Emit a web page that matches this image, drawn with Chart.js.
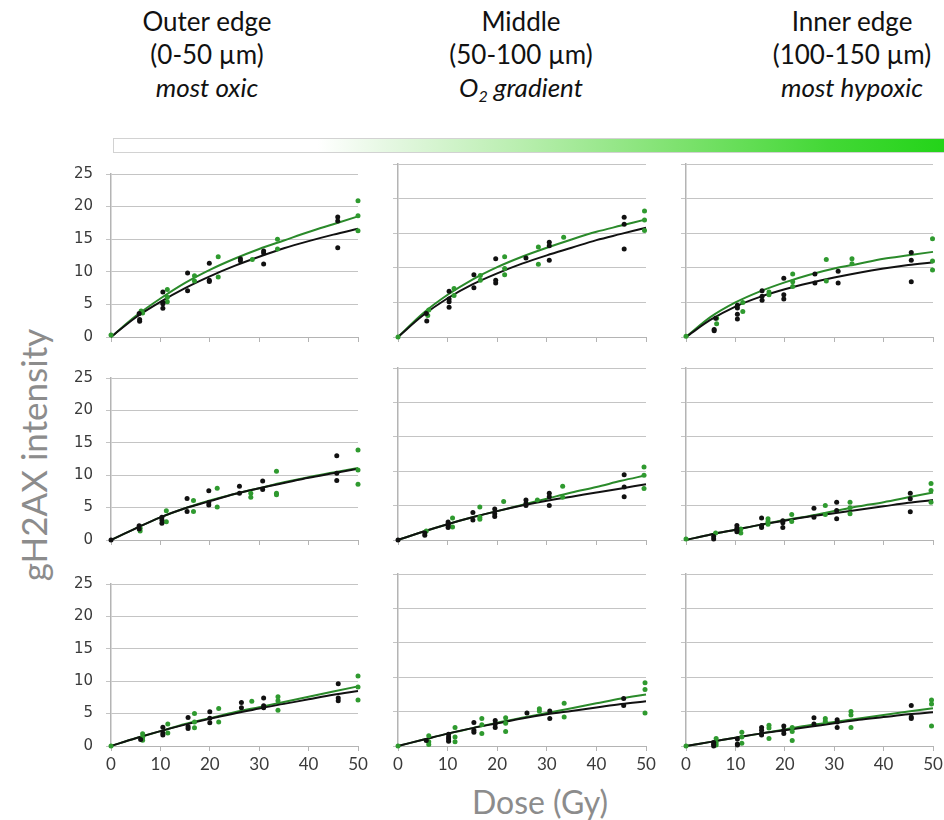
<!DOCTYPE html>
<html>
<head>
<meta charset="utf-8">
<script src="https://cdn.jsdelivr.net/npm/chart.js@4.4.1/dist/chart.umd.min.js"></script>
<style>
  html, body { margin: 0; padding: 0; background: #fff; }
  #stage { position: relative; width: 944px; height: 820px; overflow: hidden; font-family: Lato, "Open Sans", sans-serif; }
  .ttl { position: absolute; width: 280px; text-align: center; font-size: 26px; line-height: 33px; color: #111; white-space: nowrap; }
  .ttl i { font-style: italic; }
  .ttl sub { font-size: 16px; line-height: 0; vertical-align: -5px; }
  #bar { position: absolute; left: 113px; top: 138px; width: 850px; height: 13px; border: 1px solid #d2d2d2;
         background: linear-gradient(to right, #ffffff 0%, #ffffff 24%, #e6f8e3 32%, #b8eeae 48%, #7fe270 66%, #43d836 84%, #1ed314 100%); }
  .axt { position: absolute; color: #8c8c8c; white-space: nowrap; }
  canvas { position: absolute; }
</style>
</head>
<body>
<div id="stage">
  <div class="ttl" style="left:67px;top:5px">Outer edge<br>(0-50 µm)<br><i>most oxic</i></div>
  <div class="ttl" style="left:381px;top:5px">Middle<br>(50-100 µm)<br><i>O<sub>2</sub> gradient</i></div>
  <div class="ttl" style="left:712px;top:5px">Inner edge<br>(100-150 µm)<br><i>most hypoxic</i></div>
  <div id="bar"></div>
  <div class="axt" style="left:33px;top:455px;font-size:35px;transform:translate(-50%,-50%) rotate(-90deg)">gH2AX intensity</div>
  <div class="axt" style="left:540px;top:801px;font-size:32px;transform:translate(-50%,-50%)">Dose (Gy)</div>
</div>
<script>
// Axis ticks
const doseTicks = [0, 10, 20, 30, 40, 50];
const intensityTicks = [0, 5, 10, 15, 20, 25];
// Doses at which the fitted curves are sampled
const fitDoses = [0, 5, 10, 15, 20, 25, 30, 35, 40, 45, 50];

// Row 1 — measured points [dose, intensity]
const r1OuterBlack = [[5.7,3.6],[5.8,2.7],[5.8,2.4],[10.5,6.9],[10.5,5.3],[10.5,5.1],[10.5,4.4],[15.5,9.8],[15.5,7.1],[19.9,11.3],[19.9,8.7],[19.9,8.5],[26.2,12.0],[26.2,11.7],[30.9,13.2],[30.9,12.9],[30.9,11.2],[45.9,18.4],[45.9,17.8],[45.9,13.7]];
const r1OuterGreen = [[0,0.3],[6.1,4.0],[6.4,3.7],[11.4,7.3],[11.4,6.1],[11.4,5.4],[16.9,9.4],[16.9,8.6],[21.7,12.3],[21.7,9.2],[28.6,11.9],[33.7,15.0],[33.7,13.5],[50,20.9],[50,18.6],[50,16.3]];
const r1MiddleBlack = [[5.7,3.4],[5.8,2.3],[10.3,6.6],[10.3,5.5],[10.3,5.1],[10.3,4.3],[15.3,9.0],[15.3,7.1],[19.7,11.3],[19.7,8.2],[19.7,7.8],[25.8,11.4],[30.5,13.7],[30.5,13.2],[30.5,11.1],[45.6,17.3],[45.6,16.3],[45.6,12.7]];
const r1MiddleGreen = [[0,0],[6.2,3.9],[6.0,3.1],[11.3,7.0],[11.3,6.0],[16.6,8.9],[16.6,8.2],[21.5,11.6],[21.5,9.9],[21.5,9.0],[28.3,13.0],[28.3,10.5],[33.4,14.4],[49.7,18.2],[49.7,16.9],[49.7,15.4]];
const r1InnerBlack = [[5.7,1.1],[5.7,0.9],[6.0,2.7],[10.4,4.6],[10.4,4.2],[10.4,3.3],[10.4,2.6],[15.4,6.7],[15.4,5.9],[15.4,5.3],[19.8,8.5],[19.8,6.1],[19.8,5.5],[26.1,9.1],[26.1,7.8],[30.8,9.5],[30.8,7.8],[45.6,12.2],[45.6,11.1],[45.6,8.0]];
const r1InnerGreen = [[0,0.1],[6.2,2.7],[6.2,1.9],[11.5,5.0],[11.5,3.7],[16.8,6.5],[16.8,6.1],[21.6,9.1],[21.6,8.0],[21.6,7.3],[28.4,11.2],[28.4,8.1],[33.6,11.3],[33.6,10.6],[49.9,14.2],[49.9,11.0],[49.9,9.7]];

// Row 2
const r2OuterBlack = [[0,0],[5.7,2.2],[5.7,1.7],[10.3,3.5],[10.3,3.1],[10.3,2.6],[15.4,6.4],[15.4,4.4],[19.8,7.6],[19.8,5.8],[19.8,5.4],[26.0,8.3],[26.0,7.2],[30.7,9.1],[30.7,7.8],[45.7,13.0],[45.7,10.3],[45.7,9.2]];
const r2OuterGreen = [[5.9,1.8],[5.9,1.4],[11.2,4.5],[11.2,2.8],[16.7,6.1],[16.7,4.4],[21.5,8.0],[21.5,5.1],[28.3,7.2],[28.3,6.6],[33.5,10.6],[33.5,7.2],[33.5,7.0],[50,13.9],[50,10.8],[50,8.6]];
const r2MiddleBlack = [[0,0],[5.4,0.7],[5.4,1.0],[10.1,2.6],[10.1,2.3],[10.1,2.1],[10.1,1.8],[15.1,4.0],[15.1,2.9],[19.5,4.5],[19.5,3.8],[19.5,3.4],[25.8,5.8],[25.8,5.3],[25.8,5.0],[30.5,6.8],[30.5,6.3],[30.5,5.0],[45.6,9.5],[45.6,7.7],[45.6,6.3]];
const r2MiddleGreen = [[5.7,1.3],[11.0,3.2],[11.0,1.9],[16.5,4.8],[16.5,3.3],[16.5,3.0],[21.3,5.6],[28.1,5.8],[33.2,7.8],[33.2,6.2],[49.6,10.6],[49.6,9.4],[49.6,7.5]];
const r2InnerBlack = [[5.6,0.15],[5.6,0.5],[10.3,2.1],[10.3,1.7],[10.3,1.4],[10.3,1.2],[15.3,3.2],[15.3,2.1],[15.3,1.8],[19.6,2.8],[19.6,2.5],[19.6,1.8],[25.9,4.6],[25.9,3.3],[30.5,5.5],[30.5,4.3],[30.5,3.1],[45.4,6.8],[45.4,6.0],[45.4,4.1]];
const r2InnerGreen = [[0,0.15],[6.0,1.0],[11.1,1.6],[11.1,1.0],[16.6,3.1],[16.6,2.7],[16.6,2.3],[21.4,3.7],[21.4,2.7],[28.2,5.0],[28.2,3.7],[33.2,5.5],[33.2,4.7],[33.2,3.8],[49.6,8.2],[49.6,7.2],[49.6,5.5]];

// Row 3
const r3OuterBlack = [[6.0,1.0],[10.5,2.9],[10.5,2.0],[10.5,1.7],[15.6,4.4],[15.6,3.0],[15.6,2.7],[20.0,5.3],[20.0,4.3],[20.0,3.6],[26.4,6.7],[26.4,5.9],[30.9,7.4],[30.9,6.2],[30.9,5.9],[46.0,9.6],[46.0,7.4],[46.0,7.0]];
const r3OuterGreen = [[0,0],[6.4,1.9],[6.4,1.3],[6.4,0.9],[11.5,3.4],[11.5,2.0],[16.9,5.0],[16.9,3.7],[16.9,2.8],[21.8,5.8],[21.8,3.7],[28.5,6.9],[33.8,7.6],[33.8,7.0],[33.8,5.5],[50,10.8],[50,9.1],[50,7.1]];
const r3MiddleBlack = [[5.7,0.8],[10.2,1.7],[10.2,1.3],[10.2,1.0],[10.2,0.7],[15.3,3.4],[15.3,2.3],[15.3,2.0],[19.6,3.7],[19.6,3.2],[19.6,2.7],[26.0,4.8],[30.6,5.1],[30.6,4.0],[45.5,6.9],[45.5,5.9]];
const r3MiddleGreen = [[0,0],[6.2,1.5],[6.2,0.6],[6.2,0.2],[11.5,2.7],[11.5,1.3],[11.5,0.6],[16.9,4.0],[16.9,3.1],[16.9,1.8],[21.7,4.1],[21.7,3.3],[21.7,2.1],[28.5,5.4],[28.5,5.1],[33.5,6.2],[33.5,4.2],[49.8,9.2],[49.8,8.2],[49.8,4.8]];
const r3InnerBlack = [[5.6,0],[5.6,0.5],[5.6,0.25],[10.4,1.0],[10.4,0.3],[10.4,0.15],[15.3,2.7],[15.3,2.3],[15.3,1.8],[15.3,1.6],[19.8,2.9],[19.8,2.3],[19.8,1.8],[25.9,4.1],[25.9,3.2],[30.6,3.8],[30.6,3.5],[30.6,2.7],[45.6,5.9],[45.6,4.2],[45.6,4.0]];
const r3InnerGreen = [[0,0],[6.1,1.1],[6.1,0.5],[6.1,0.15],[11.3,2.0],[11.3,1.3],[11.3,0.4],[16.8,3.0],[16.8,2.6],[16.8,1.1],[21.5,2.7],[21.5,2.1],[21.5,0.8],[28.2,4.0],[28.2,3.6],[33.4,5.0],[33.4,4.5],[33.4,2.7],[49.7,6.7],[49.7,6.1],[49.7,2.9]];

// Fitted curves, sampled at fitDoses
const r1OuterFitGreen  = [0,3.2,5.9,8.3,10.3,12.0,13.5,14.8,16.1,17.3,18.5];
const r1OuterFitBlack  = [0,3.0,5.4,7.5,9.3,10.9,12.3,13.6,14.7,15.7,16.6];
const r1MiddleFitGreen = [0,3.4,6.1,8.3,10.1,11.6,12.9,14.1,15.2,16.1,17.0];
const r1MiddleFitBlack = [0,3.1,5.6,7.6,9.2,10.6,11.8,12.9,14.0,14.9,15.8];
const r1InnerFitGreen  = [0,2.9,5.0,6.6,7.9,9.0,9.9,10.6,11.3,11.8,12.3];
const r1InnerFitBlack  = [0,2.5,4.4,5.8,6.9,7.8,8.6,9.3,9.9,10.4,10.8];
const r2OuterFitGreen  = [0,1.8,3.5,4.9,6.1,7.1,8.0,8.9,9.7,10.4,11.1];
const r2OuterFitBlack  = [0,1.8,3.5,4.9,6.0,7.1,8.0,8.8,9.6,10.3,11.0];
const r2MiddleFitGreen = [0,1.2,2.3,3.3,4.2,5.1,6.0,6.9,7.7,8.6,9.4];
const r2MiddleFitBlack = [0,1.2,2.3,3.3,4.2,5.0,5.7,6.3,6.9,7.5,8.1];
const r2InnerFitGreen  = [0,0.8,1.5,2.2,2.9,3.5,4.2,4.9,5.5,6.2,6.9];
const r2InnerFitBlack  = [0,0.8,1.5,2.2,2.8,3.4,3.9,4.4,4.9,5.4,5.8];
const r3OuterFitGreen  = [0,1.2,2.3,3.4,4.3,5.2,6.0,6.8,7.6,8.4,9.2];
const r3OuterFitBlack  = [0,1.2,2.3,3.3,4.2,5.0,5.8,6.5,7.2,7.9,8.5];
const r3MiddleFitGreen = [0,0.9,1.8,2.6,3.4,4.1,4.8,5.5,6.2,6.9,7.5];
const r3MiddleFitBlack = [0,0.9,1.8,2.6,3.3,4.0,4.6,5.1,5.6,6.1,6.5];
const r3InnerFitGreen  = [0,0.6,1.2,1.8,2.4,3.0,3.5,4.0,4.5,5.0,5.5];
const r3InnerFitBlack  = [0,0.6,1.2,1.8,2.3,2.8,3.3,3.8,4.2,4.6,4.9];

const panels = [
  [r1OuterBlack, r1OuterGreen, r1OuterFitBlack, r1OuterFitGreen],
  [r1MiddleBlack, r1MiddleGreen, r1MiddleFitBlack, r1MiddleFitGreen],
  [r1InnerBlack, r1InnerGreen, r1InnerFitBlack, r1InnerFitGreen],
  [r2OuterBlack, r2OuterGreen, r2OuterFitBlack, r2OuterFitGreen],
  [r2MiddleBlack, r2MiddleGreen, r2MiddleFitBlack, r2MiddleFitGreen],
  [r2InnerBlack, r2InnerGreen, r2InnerFitBlack, r2InnerFitGreen],
  [r3OuterBlack, r3OuterGreen, r3OuterFitBlack, r3OuterFitGreen],
  [r3MiddleBlack, r3MiddleGreen, r3MiddleFitBlack, r3MiddleFitGreen],
  [r3InnerBlack, r3InnerGreen, r3InnerFitBlack, r3InnerFitGreen]
];

// Plot-area edges of the 3x3 grid, in page pixels
const colLeft = [111, 398, 686];
const colRight = [358, 646, 933];
const rowTop = [164, 368, 574];
const rowBottom = [337, 540, 746];

const PAD_L = 70, PAD_R = 18, PAD_T = 12, PAD_B = 38;
const BLACK = '#111111', GREEN = '#2f9a2f', GREEN_LINE = '#2a8a2a';

const toPts = arr => arr.map(p => ({ x: p[0], y: p[1] }));
const toCurve = ys => ys.map((y, i) => ({ x: fitDoses[i], y: y }));

const stage = document.getElementById('stage');

panels.forEach((p, idx) => {
  const r = Math.floor(idx / 3), c = idx % 3;
  const w = colRight[c] - colLeft[c] + PAD_L + PAD_R;
  const h = rowBottom[r] - rowTop[r] + PAD_T + PAD_B;
  const cv = document.createElement('canvas');
  cv.width = w; cv.height = h;
  cv.style.left = (colLeft[c] - PAD_L) + 'px';
  cv.style.top = (rowTop[r] - PAD_T) + 'px';
  cv.style.width = w + 'px'; cv.style.height = h + 'px';
  stage.appendChild(cv);

  const showY = c === 0, showX = r === 2;

  new Chart(cv, {
    type: 'scatter',
    data: {
      datasets: [
        { data: toCurve(p[3]), showLine: true, borderColor: GREEN_LINE, borderWidth: 2, pointRadius: 0,
          cubicInterpolationMode: 'monotone', clip: false, order: 4 },
        { data: toCurve(p[2]), showLine: true, borderColor: BLACK, borderWidth: 2, pointRadius: 0,
          cubicInterpolationMode: 'monotone', clip: false, order: 3 },
        { data: toPts(p[1]), backgroundColor: GREEN, borderWidth: 0, pointRadius: 2.5, clip: false, order: 2 },
        { data: toPts(p[0]), backgroundColor: BLACK, borderWidth: 0, pointRadius: 2.5, clip: false, order: 1 }
      ]
    },
    options: {
      responsive: false,
      animation: false,
      devicePixelRatio: 1,
      layout: { padding: { left: 0, right: PAD_R, top: PAD_T, bottom: 0 } },
      plugins: { legend: { display: false }, tooltip: { enabled: false } },
      scales: {
        x: {
          type: 'linear', min: 0, max: 50,
          afterBuildTicks: s => { s.ticks = doseTicks.map(v => ({ value: v })); },
          afterFit: s => { s.height = PAD_B; },
          grid: { drawOnChartArea: false, drawTicks: true, tickLength: 5, color: '#b4b4b4' },
          border: { display: true, color: '#b4b4b4', width: 1 },
          ticks: { display: showX, padding: 3, color: '#3a3a3a', maxRotation: 0,
                   font: { family: 'Lato', size: 17 } }
        },
        y: {
          type: 'linear', min: 0, max: 25,
          afterBuildTicks: s => { s.ticks = intensityTicks.map(v => ({ value: v })); },
          afterFit: s => { s.width = PAD_L; },
          grid: { drawTicks: true, tickLength: 5, color: '#c4c4c4', lineWidth: 1 },
          border: { display: true, color: '#b4b4b4', width: 1.5 },
          ticks: { display: showY, padding: 13, color: '#3a3a3a',
                   font: { family: 'DejaVu Sans', size: 15 } }
        }
      }
    }
  });
});
</script>
</body>
</html>
